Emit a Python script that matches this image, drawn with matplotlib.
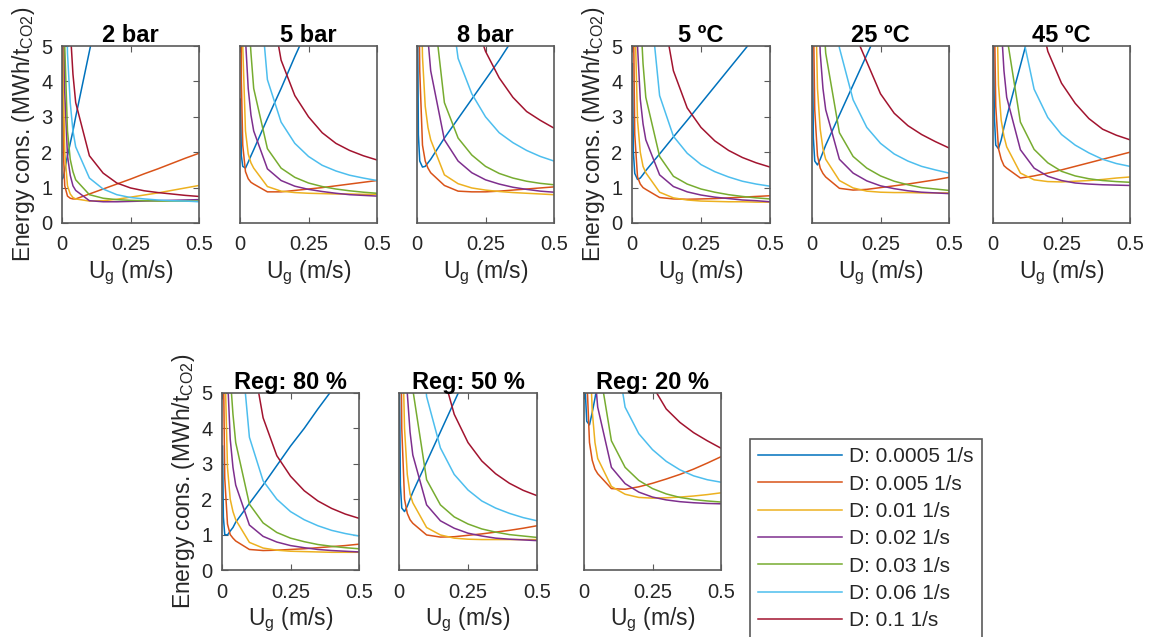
import numpy as np
import matplotlib
matplotlib.use('Agg')
import matplotlib.pyplot as plt
from matplotlib.lines import Line2D

plt.rcParams['font.family'] = ['Liberation Sans', 'DejaVu Sans']
plt.rcParams['mathtext.fontset'] = 'custom'
plt.rcParams['mathtext.rm'] = 'Liberation Sans'
plt.rcParams['mathtext.it'] = 'Liberation Sans:italic'

nan = np.nan

# superficial gas velocity grid (m/s)
ug = [0.002, 0.005, 0.01, 0.02, 0.03, 0.04, 0.05, 0.1, 0.15, 0.2,
      0.25, 0.3, 0.35, 0.4, 0.45, 0.5]

d_labels = ['D: 0.0005 1/s', 'D: 0.005 1/s', 'D: 0.01 1/s', 'D: 0.02 1/s',
            'D: 0.03 1/s', 'D: 0.06 1/s', 'D: 0.1 1/s']
colors = ['#0072BD', '#D95319', '#EDB120', '#7E2F8E', '#77AC30', '#4DBEEE', '#A2142F']

# energy consumption (MWh/tCO2), one row per D value
e_2bar = [
    [1.25, 1.3, 1.5, 1.9, 2.25, 2.6, 3.0, 4.85, 6.7, nan, nan, nan, nan, nan, nan, nan],
    [5.5, 2.0, 1.05, 0.76, 0.7, 0.68, 0.68, 0.82, 0.96, 1.1, 1.24, 1.39, 1.53, 1.68, 1.83, 1.97],
    [9.0, 4.0, 2.0, 1.05, 0.82, 0.72, 0.68, 0.62, 0.63, 0.67, 0.73, 0.79, 0.85, 0.92, 0.99, 1.06],
    [nan, 7.0, 3.7, 1.9, 1.35, 1.05, 0.92, 0.63, 0.6, 0.6, 0.61, 0.62, 0.63, 0.64, 0.65, 0.66],
    [nan, 10.0, 5.0, 2.6, 1.8, 1.45, 1.22, 0.8, 0.7, 0.66, 0.64, 0.63, 0.62, 0.62, 0.62, 0.62],
    [nan, nan, 9.0, 4.8, 3.4, 2.6, 2.15, 1.27, 0.96, 0.8, 0.72, 0.68, 0.65, 0.63, 0.62, 0.6],
    [nan, nan, nan, 8.0, 5.5, 4.2, 3.4, 1.9, 1.41, 1.13, 0.99, 0.91, 0.86, 0.82, 0.78, 0.75],
]
e_5bar = [
    [3.5, 1.9, 1.6, 1.55, 1.72, 1.9, 2.07, 2.95, 3.8, 4.7, 5.55, nan, nan, nan, nan, nan],
    [9.0, 4.0, 2.2, 1.45, 1.25, 1.15, 1.1, 0.88, 0.88, 0.92, 0.96, 1.0, 1.05, 1.1, 1.15, 1.2],
    [nan, 9.0, 5.0, 2.6, 1.95, 1.7, 1.55, 1.03, 0.9, 0.86, 0.84, 0.83, 0.82, 0.82, 0.81, 0.81],
    [nan, nan, 10.0, 5.2, 3.8, 3.05, 2.6, 1.53, 1.2, 1.04, 0.95, 0.89, 0.84, 0.8, 0.78, 0.76],
    [nan, nan, nan, 9.0, 6.0, 4.8, 3.8, 2.1, 1.55, 1.29, 1.13, 1.03, 0.96, 0.91, 0.87, 0.84],
    [nan, nan, nan, nan, nan, 10.5, 8.5, 4.05, 2.85, 2.25, 1.88, 1.63, 1.47, 1.35, 1.27, 1.2],
    [nan, nan, nan, nan, nan, nan, nan, 6.8, 4.6, 3.6, 3.0, 2.55, 2.25, 2.05, 1.9, 1.78],
]
e_8bar = [
    [6.0, 2.5, 1.75, 1.58, 1.6, 1.7, 1.8, 2.4, 2.95, 3.5, 4.05, 4.6, 5.2, nan, nan, nan],
    [nan, 8.0, 4.3, 2.2, 1.75, 1.55, 1.42, 1.06, 0.9, 0.88, 0.88, 0.9, 0.93, 0.96, 0.99, 1.02],
    [nan, nan, 9.0, 4.7, 3.3, 2.7, 2.35, 1.36, 1.11, 0.99, 0.93, 0.89, 0.86, 0.84, 0.82, 0.8],
    [nan, nan, nan, 10.0, 7.0, 5.2, 4.3, 2.35, 1.75, 1.42, 1.22, 1.1, 1.01, 0.95, 0.9, 0.87],
    [nan, nan, nan, nan, nan, 9.5, 6.8, 3.4, 2.4, 1.92, 1.6, 1.4, 1.27, 1.18, 1.12, 1.08],
    [nan, nan, nan, nan, nan, nan, nan, 7.5, 4.65, 3.65, 3.0, 2.55, 2.27, 2.05, 1.88, 1.75],
    [nan, nan, nan, nan, nan, nan, nan, nan, nan, 6.0, 4.85, 4.1, 3.55, 3.15, 2.9, 2.68],
]
e_5C = [
    [4.5, 2.0, 1.4, 1.23, 1.27, 1.37, 1.48, 1.95, 2.43, 2.9, 3.38, 3.86, 4.34, 4.82, 5.3, nan],
    [nan, 6.0, 2.5, 1.3, 1.1, 1.0, 0.95, 0.72, 0.68, 0.67, 0.68, 0.69, 0.71, 0.73, 0.75, 0.77],
    [nan, nan, 6.0, 2.9, 2.0, 1.6, 1.42, 0.87, 0.71, 0.65, 0.62, 0.61, 0.6, 0.6, 0.59, 0.59],
    [nan, nan, 10.0, 5.0, 3.5, 2.8, 2.35, 1.36, 1.03, 0.88, 0.79, 0.73, 0.69, 0.65, 0.63, 0.6],
    [nan, nan, nan, 9.0, 6.0, 4.5, 3.55, 1.88, 1.32, 1.1, 0.96, 0.87, 0.8, 0.75, 0.71, 0.68],
    [nan, nan, nan, nan, nan, 9.5, 7.5, 3.6, 2.45, 1.97, 1.65, 1.45, 1.3, 1.18, 1.1, 1.04],
    [nan, nan, nan, nan, nan, nan, nan, 6.5, 4.3, 3.25, 2.7, 2.32, 2.05, 1.85, 1.7, 1.58],
]
e_25C = [
    [5.0, 2.4, 1.75, 1.64, 1.8, 2.0, 2.2, 3.05, 3.9, 4.75, 5.6, nan, nan, nan, nan, nan],
    [nan, 6.0, 3.2, 1.9, 1.55, 1.4, 1.3, 0.98, 0.93, 0.95, 1.0, 1.05, 1.1, 1.16, 1.22, 1.29],
    [nan, nan, 7.5, 3.8, 2.65, 2.1, 1.8, 1.2, 0.99, 0.9, 0.87, 0.86, 0.86, 0.85, 0.85, 0.85],
    [nan, nan, nan, 7.0, 4.8, 3.8, 3.2, 1.8, 1.41, 1.19, 1.05, 0.97, 0.91, 0.87, 0.85, 0.83],
    [nan, nan, nan, nan, 8.5, 6.0, 4.8, 2.55, 1.88, 1.55, 1.33, 1.18, 1.08, 1.0, 0.96, 0.92],
    [nan, nan, nan, nan, nan, nan, 11.0, 4.95, 3.48, 2.7, 2.25, 1.95, 1.75, 1.6, 1.5, 1.41],
    [nan, nan, nan, nan, nan, nan, nan, nan, 5.45, 4.55, 3.65, 3.1, 2.75, 2.5, 2.3, 2.12],
]
e_45C = [
    [5.5, 3.0, 2.2, 2.1, 2.35, 2.7, 3.0, 4.45, 5.9, nan, nan, nan, nan, nan, nan, nan],
    [nan, 6.0, 3.3, 2.1, 1.8, 1.62, 1.55, 1.27, 1.33, 1.41, 1.5, 1.6, 1.7, 1.8, 1.9, 2.0],
    [nan, nan, 7.5, 3.9, 2.9, 2.45, 2.15, 1.41, 1.22, 1.17, 1.16, 1.18, 1.2, 1.23, 1.27, 1.3],
    [nan, nan, nan, 8.0, 5.6, 4.3, 3.55, 2.07, 1.55, 1.32, 1.2, 1.13, 1.1, 1.08, 1.07, 1.06],
    [nan, nan, nan, nan, 9.5, 7.0, 5.3, 2.85, 2.08, 1.7, 1.46, 1.33, 1.25, 1.2, 1.17, 1.15],
    [nan, nan, nan, nan, nan, nan, 11.0, 5.6, 3.78, 2.98, 2.5, 2.2, 1.98, 1.8, 1.68, 1.6],
    [nan, nan, nan, nan, nan, nan, nan, nan, 6.6, 4.85, 3.95, 3.38, 2.95, 2.65, 2.48, 2.35],
]
e_reg80 = [
    [3.5, 1.5, 1.0, 0.99, 1.1, 1.2, 1.35, 1.88, 2.4, 2.95, 3.5, 4.0, 4.55, 5.07, nan, nan],
    [nan, 6.0, 2.6, 1.3, 1.0, 0.9, 0.82, 0.58, 0.55, 0.56, 0.58, 0.6, 0.63, 0.66, 0.69, 0.73],
    [nan, nan, 6.0, 2.9, 2.0, 1.65, 1.42, 0.78, 0.62, 0.56, 0.53, 0.52, 0.51, 0.5, 0.5, 0.5],
    [nan, nan, 10.0, 5.5, 3.7, 2.9, 2.4, 1.27, 0.95, 0.79, 0.69, 0.63, 0.58, 0.55, 0.53, 0.51],
    [nan, nan, nan, 8.0, 5.5, 4.4, 3.6, 1.86, 1.33, 1.06, 0.9, 0.8, 0.72, 0.67, 0.63, 0.6],
    [nan, nan, nan, nan, nan, nan, 8.0, 3.75, 2.52, 2.0, 1.65, 1.42, 1.25, 1.12, 1.03, 0.96],
    [nan, nan, nan, nan, nan, nan, nan, 6.5, 4.3, 3.23, 2.65, 2.24, 1.95, 1.74, 1.58, 1.46],
]
e_reg50 = [
    [5.0, 2.4, 1.75, 1.65, 1.8, 2.0, 2.2, 3.05, 3.9, 4.75, 5.6, nan, nan, nan, nan, nan],
    [nan, 9.0, 4.0, 2.0, 1.6, 1.42, 1.32, 0.99, 0.93, 0.94, 0.98, 1.02, 1.07, 1.12, 1.18, 1.25],
    [nan, nan, 7.5, 4.0, 2.7, 2.15, 1.9, 1.2, 0.99, 0.9, 0.87, 0.86, 0.86, 0.86, 0.86, 0.86],
    [nan, nan, nan, 8.0, 5.0, 3.9, 3.25, 1.84, 1.39, 1.18, 1.04, 0.96, 0.9, 0.87, 0.85, 0.83],
    [nan, nan, nan, nan, 9.0, 6.5, 5.1, 2.55, 1.84, 1.5, 1.3, 1.16, 1.07, 1.0, 0.96, 0.92],
    [nan, nan, nan, nan, nan, nan, 10.0, 4.9, 3.45, 2.7, 2.26, 1.95, 1.75, 1.6, 1.48, 1.39],
    [nan, nan, nan, nan, nan, nan, nan, nan, 5.8, 4.4, 3.6, 3.08, 2.72, 2.45, 2.25, 2.1],
]
e_reg20 = [
    [8.0, 5.0, 4.2, 4.1, 4.45, 4.85, 5.3, nan, nan, nan, nan, nan, nan, nan, nan, nan],
    [nan, 10.0, 5.5, 3.6, 3.1, 2.85, 2.72, 2.3, 2.28, 2.35, 2.45, 2.57, 2.7, 2.85, 3.02, 3.2],
    [nan, nan, 12.0, 6.5, 4.5, 3.6, 3.15, 2.36, 2.14, 2.05, 2.03, 2.04, 2.06, 2.09, 2.13, 2.18],
    [nan, nan, nan, nan, 7.5, 5.5, 4.6, 2.9, 2.44, 2.2, 2.06, 1.98, 1.93, 1.9, 1.88, 1.87],
    [nan, nan, nan, nan, nan, 8.0, 6.0, 3.65, 2.9, 2.53, 2.3, 2.15, 2.05, 1.99, 1.95, 1.92],
    [nan, nan, nan, nan, nan, nan, nan, 7.0, 4.6, 3.85, 3.4, 3.07, 2.83, 2.66, 2.55, 2.48],
    [nan, nan, nan, nan, nan, nan, nan, nan, nan, 6.5, 5.2, 4.55, 4.17, 3.88, 3.65, 3.44],
]

titles = ['2 bar', '5 bar', '8 bar', '5 ºC', '25 ºC', '45 ºC',
          'Reg: 80 %', 'Reg: 50 %', 'Reg: 20 %']
cases = [e_2bar, e_5bar, e_8bar, e_5C, e_25C, e_45C, e_reg80, e_reg50, e_reg20]
with_ylabel = [True, False, False, True, False, False, True, False, False]

W, H = 1149, 637
# axes boxes in pixels: left, top, right, bottom
boxes = [
    (62, 46, 199, 223), (240, 46, 377, 223), (417, 46, 554, 223),
    (632, 46, 770, 223), (812, 46, 949, 223), (993, 46, 1130, 223),
    (222, 393, 359, 570), (399, 393, 537, 570), (584, 393, 721, 570),
]

fig = plt.figure(figsize=(W / 100, H / 100), dpi=100)
frame_col = '#5a5a5a'
text_col = '#262626'

for (l, t, r, b), title, data, ylab in zip(boxes, titles, cases, with_ylabel):
    ax = fig.add_axes([l / W, 1 - b / H, (r - l) / W, (b - t) / H])
    for row, c in zip(data, colors):
        ax.plot(ug, row, color=c, lw=1.1)
    ax.set_xlim(0, 0.5)
    ax.set_ylim(0, 5)
    ax.set_xticks([0, 0.25, 0.5])
    ax.set_xticklabels(['0', '0.25', '0.5'])
    ax.tick_params(axis='x', direction='in', length=4, width=0.8, top=True,
                   pad=9, labelsize=14.5, colors=frame_col, labelcolor=text_col)
    if ylab:
        ax.set_yticks(range(6))
        ax.tick_params(axis='y', direction='in', length=4, width=0.8, right=True,
                       pad=7, labelsize=14.5, colors=frame_col, labelcolor=text_col)
        ax.set_ylabel('Energy cons. (MWh/t$_{\\mathrm{CO2}}$)', fontsize=16.5,
                      color=text_col, labelpad=3)
    else:
        ax.set_yticks([])
    for s in ax.spines.values():
        s.set_color(frame_col)
        s.set_linewidth(1.2)
    ax.set_xlabel('U$_{\\mathrm{g}}$ (m/s)', fontsize=16.5, color=text_col, labelpad=3)
    ax.set_title(title, fontsize=17, fontweight='bold', pad=3)

handles = [Line2D([], [], color=c, lw=1.1) for c in colors]
leg = fig.legend(handles, d_labels, loc='upper left',
                 bbox_to_anchor=(750 / W, 1 - 439 / H), borderaxespad=0,
                 fontsize=15, handlelength=4.0, handletextpad=0.35,
                 labelspacing=0.4, borderpad=0.4, fancybox=False,
                 edgecolor=frame_col, framealpha=1)
leg.get_frame().set_linewidth(1.2)
for txt in leg.get_texts():
    txt.set_color(text_col)

fig.savefig('out.png', dpi=100)
